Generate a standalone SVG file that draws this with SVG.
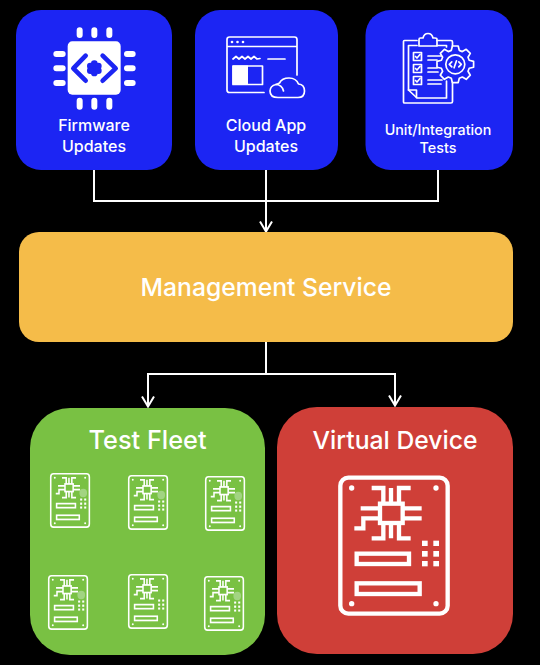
<svg xmlns="http://www.w3.org/2000/svg" xmlns:xlink="http://www.w3.org/1999/xlink" width="540" height="665" viewBox="0 0 540 665">
<style>
text{font-family:"Inter","Liberation Sans",sans-serif;fill:#fff;text-anchor:middle;font-weight:500}
.t16{font-size:16px}.t14{font-size:14.300px}.t25{font-size:24.700px}
.blue{fill:#1c25f3}
.conn{fill:none;stroke:#fff;stroke-width:2}
.w{fill:none;stroke:#fff;stroke-width:1.700;stroke-linejoin:round;stroke-linecap:round}
.b{fill:none;stroke:#fff;stroke-width:13}
.s .b{stroke-width:15}
</style>
<defs>
<marker id="arrow" viewBox="0 0 14 14" refX="12.500" refY="7" markerWidth="14" markerHeight="14" markerUnits="userSpaceOnUse" orient="auto">
<path d="M2,1L12,7L2,13" fill="none" stroke="#fff" stroke-width="2"/>
</marker>
<g id="board">
<rect class="b" x="61" y="53" width="322" height="408" rx="24"/>
<g fill="#fff"><circle cx="95" cy="84" r="8"/><circle cx="348" cy="84" r="8"/><circle cx="95" cy="431" r="8"/><circle cx="348" cy="431" r="8"/>
<rect x="306" y="242" width="17" height="16"/><rect x="340" y="242" width="17" height="16"/><rect x="306" y="273" width="17" height="17"/><rect x="340" y="273" width="17" height="17"/><rect x="306" y="303" width="17" height="16"/><rect x="340" y="303" width="17" height="16"/></g>
<rect class="b" x="180" y="131" width="68" height="58"/>
<path class="b" d="M155,84H190V131M213,84V131M272,84H237V131M155,235H190V189M213,235V189M272,235H237V189M122,145H180M248,145H305M248,175H305M180,175H130V205H103"/>
<rect class="b" x="110" y="281" width="157" height="31"/>
<rect class="b" x="110" y="370" width="189" height="32"/>
</g>
<g id="boardGear"><use xlink:href="#board" href="#board"/><circle cx="332" cy="200" r="32" fill="#a2d482"/></g>
</defs>
<rect width="540" height="665" fill="#000"/>
<g id="connectors">
<path class="conn" d="M94,170V201H438V170"/>
<path class="conn" d="M266,170V232" marker-end="url(#arrow)"/>
<path class="conn" d="M266,342V374H148V407" marker-end="url(#arrow)"/>
<path class="conn" d="M266,342V374H395V406" marker-end="url(#arrow)"/>
</g>
<g id="firmware">
<rect class="blue" x="16" y="10" width="156" height="160" rx="25"/>
<g transform="translate(50,24) scale(.33333)">
<rect x="53" y="52" width="159" height="160" rx="14" fill="#fff"/>
<path d="M89,19V33M133,19V33M178,19V33M89,230V248M133,230V248M178,230V248M19,90H38M19,133H38M19,177H38M231,90H248M231,133H248M231,177H248" fill="none" stroke="#fff" stroke-width="18" stroke-linecap="round"/>
<path d="M107,95L70,133L107,170M158,95L197,133L158,170" fill="none" stroke="#1c25f3" stroke-width="14" stroke-linecap="round" stroke-linejoin="round"/>
<g class="blue"><circle cx="133" cy="133" r="14"/><circle cx="133" cy="119" r="10"/><circle cx="133" cy="147" r="10"/><circle cx="121" cy="126" r="10"/><circle cx="145" cy="126" r="10"/><circle cx="121" cy="140" r="10"/><circle cx="145" cy="140" r="10"/></g>
</g>
<text class="t16" x="94" y="131">Firmware</text>
<text class="t16" x="94" y="152">Updates</text>
</g>
<g id="cloud-app">
<rect class="blue" x="195" y="10" width="143" height="160" rx="25"/>
<g transform="translate(222,32)">
<path class="w" d="M42,60.500H7.500Q5,60.500 5,58V7.500Q5,5 7.500,5H72.500Q75,5 75,7.500V43M5,14.500H75"/>
<g fill="#fff"><circle cx="10" cy="10" r="1.300"/><circle cx="15.500" cy="10" r="1.300"/><circle cx="21" cy="10" r="1.300"/>
<rect x="10.500" y="33.500" width="15.500" height="19"/></g>
<path class="w" d="M11,27L14,24.500L17,27L20,24.500L23,27L26,24.500L29,27L32,24.500L35,27L38,26.500M46,27H63"/>
<rect class="w" x="11" y="34" width="29.500" height="18.500"/>
<path class="w" d="M56,65.500H76Q82.500,65.500 82.500,59Q82.500,52.500 76.500,52Q74,46 67,46Q60,46 57.500,51Q55,52 54,52.500Q48,54 48,59Q48,65.500 56,65.500ZM53.500,52.500Q60,52.500 61.500,59"/>
</g>
<text class="t16" x="266" y="131">Cloud App</text>
<text class="t16" x="266" y="152">Updates</text>
</g>
<g id="unit-tests">
<rect class="blue" x="365.500" y="10" width="147.500" height="160" rx="25"/>
<path class="w" d="M417,40.500H404.500Q403.500,40.500 403.500,41.500V102Q403.500,103 404.500,103H451Q452.500,103 452.500,101.500V81M437,40.500H451Q452.500,40.500 452.500,42V46M417,45.500H408.500V90L417,98H446.500V81M437,45.500H446.500V47"/>
<path class="w" d="M408.500,90H416.500V97.500"/>
<path class="w" d="M419,46V39.500Q419,38 420.500,38H423Q424,33.500 428,33.500Q432,33.500 433,38H435Q437,38 437,39.500V46Z"/>
<g class="w" stroke-width="1.400"><rect x="413.500" y="52.500" width="8" height="8"/><rect x="413.500" y="64.500" width="8" height="8"/><rect x="413.500" y="76.500" width="8" height="8"/>
<path d="M415.500,56.500L417,58L420,54.500M415.500,68.500L417,70L420,66.500M415.500,80.500L417,82L420,78.500"/></g>
<path class="w" d="M428,56H441M428,60H437M428,68H437M428,72H438M428,80H442M428,84H441"/>
<g transform="translate(455.300,64.300)">
<path class="w" style="fill:#1c25f3" d="M13.900,-4L18.300,-2.900 18.300,2.900 13.900,4 12.700,7 15,10.900 10.900,15 7,12.700 4,13.900 2.900,18.300 -2.900,18.300 -4,13.900 -7,12.700 -10.900,15 -15,10.900 -12.700,7 -13.900,4 -18.300,2.900 -18.300,-2.900 -13.900,-4 -12.700,-7 -15,-10.900 -10.900,-15 -7,-12.700 -4,-13.900 -2.900,-18.300 2.900,-18.300 4,-13.900 7,-12.700 10.900,-15 15,-10.900 12.700,-7Z"/>
<circle class="w" r="9.500"/>
<path class="w" d="M-3.500,-2.500L-6,0L-3.500,2.500M3.500,-2.500L6,0L3.500,2.500M1.200,-3.500L-1.200,3.500"/>
</g>
<text class="t14" x="438" y="135">Unit/Integration</text>
<text class="t14" x="438" y="153">Tests</text>
</g>
<g id="management">
<rect x="19" y="232" width="494" height="110" rx="20" fill="#f5bc49"/>
<text class="t25" x="266" y="296">Management Service</text>
</g>
<g id="test-fleet">
<rect x="30" y="408" width="235" height="247" rx="40" fill="#79c143"/>
<text class="t25" x="147.500" y="449" style="font-size:25.300px">Test Fleet</text>
<g class="s">
<use xlink:href="#boardGear" href="#boardGear" transform="translate(43.400,466.800) scale(.12,.131)"/>
<use xlink:href="#boardGear" href="#boardGear" transform="translate(121.400,468.800) scale(.12,.131)"/>
<use xlink:href="#boardGear" href="#boardGear" transform="translate(198.400,469.800) scale(.12,.131)"/>
<use xlink:href="#boardGear" href="#boardGear" transform="translate(41.400,568.800) scale(.12,.131)"/>
<use xlink:href="#board" href="#board" transform="translate(121.400,567.800) scale(.12,.131)"/>
<use xlink:href="#boardGear" href="#boardGear" transform="translate(197.400,569.800) scale(.12,.131)"/>
</g>
</g>
<g id="virtual-device">
<rect x="277" y="407" width="236" height="247" rx="40" fill="#cf3f38"/>
<text class="t25" x="395" y="449">Virtual Device</text>
<use xlink:href="#board" href="#board" transform="translate(320,460) scale(.33333)"/>
</g>
</svg>
